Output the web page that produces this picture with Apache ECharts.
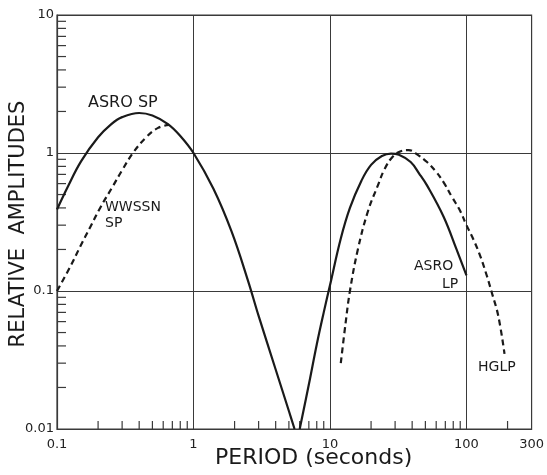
<!DOCTYPE html>
<html>
<head>
<meta charset="utf-8">
<script src="https://cdn.jsdelivr.net/npm/echarts@6/dist/echarts.min.js"></script>
<style>
  html, body { margin: 0; padding: 0; background: #ffffff; }
  #chart { width: 547px; height: 475px; }
</style>
</head>
<body>
<div id="chart"></div>
<script>
// Instrument response curves, relative amplitude vs period (s), log-log.
const asroSpPeriod = [0.1, 0.12, 0.15, 0.2, 0.25, 0.3, 0.4, 0.5, 0.65, 0.8, 1, 1.4, 1.9, 2.5, 3, 4, 5, 5.5];
const asroSpAmp    = [0.39, 0.57, 0.87, 1.3, 1.62, 1.82, 1.95, 1.87, 1.62, 1.33, 1.0, 0.55, 0.27, 0.12, 0.066, 0.027, 0.0135, 0.01];

const wwssnSpPeriod = [0.1, 0.125, 0.148, 0.175, 0.207, 0.258, 0.3, 0.36, 0.45, 0.55, 0.66];
const wwssnSpAmp    = [0.1, 0.15, 0.21, 0.29, 0.40, 0.58, 0.75, 1.0, 1.3, 1.52, 1.6];

const asroLpPeriod = [6, 7, 8, 9, 10, 12, 14, 17, 20, 24, 28, 32, 39, 45, 51.5, 68, 84.6, 100];
const asroLpAmp    = [0.01, 0.021, 0.041, 0.07, 0.11, 0.24, 0.4, 0.63, 0.82, 0.95, 0.99, 0.97, 0.86, 0.71, 0.58, 0.345, 0.2, 0.13];

const hglpPeriod = [12, 13, 14, 16, 19, 22.4, 25.2, 28.8, 33, 37.7, 44, 51.4, 59.3, 68.2, 78.3, 90, 100, 112.7, 126, 140.6, 153, 171, 190];
const hglpAmp    = [0.03, 0.058, 0.1, 0.2, 0.38, 0.58, 0.77, 0.94, 1.03, 1.05, 0.97, 0.86, 0.74, 0.61, 0.48, 0.38, 0.30, 0.235, 0.18, 0.13, 0.098, 0.066, 0.035];

// Axis ranges and labels
const periodMin = 0.1, periodMax = 300;
const ampMin = 0.01, ampMax = 10;
const periodTickLabels = ['0.1', '1', '10', '100', '300'];
const ampTickLabels = ['0.01', '0.1', '1', '10'];

// Minor tick positions (inside the frame, bottom and left edges)
const periodMinorTicks = [0.2, 0.3, 0.4, 0.5, 0.6, 0.7, 0.8, 0.9,
                          2, 3, 4, 5, 6, 7, 8, 9,
                          20, 30, 40, 50, 60, 70, 80, 90, 200];
const ampMinorTicks = [0.02, 0.03, 0.04, 0.05, 0.06, 0.07, 0.08, 0.09,
                       0.2, 0.3, 0.4, 0.5, 0.6, 0.7, 0.8, 0.9,
                       2, 3, 4, 5, 6, 7, 8, 9];

const ink = '#1a1a1a';
const gridInk = '#3a3a3a';
const font = 'DejaVu Sans';

function pairs(xs, ys) { return xs.map((x, i) => [x, ys[i]]); }

function fmt(v) {
  const s = String(Number(v.toPrecision(6)));
  return periodTickLabels.includes(s) || ampTickLabels.includes(s) ? s : '';
}

const chart = echarts.init(document.getElementById('chart'), null, { renderer: 'canvas' });

const curveLine = (name, xs, ys, dashed) => ({
  name, type: 'line', data: pairs(xs, ys), showSymbol: false,
  smooth: 0.4,
  lineStyle: { color: ink, width: 2.2, type: dashed ? [6, 4] : 'solid' },
  z: 5, silent: true
});

chart.setOption({
  animation: false,
  backgroundColor: '#ffffff',
  grid: { left: 57, right: 13, top: 15, bottom: 46, show: true, borderColor: gridInk, borderWidth: 1.2, containLabel: false },
  xAxis: {
    type: 'log', logBase: 10, min: periodMin, max: periodMax,
    axisLine: { show: true, lineStyle: { color: gridInk, width: 1.2 } },
    axisTick: { show: false },
    splitLine: { show: true, lineStyle: { color: gridInk, width: 1 } },
    axisLabel: { show: true, showMinLabel: true, showMaxLabel: true, margin: 9, color: '#222', fontFamily: font, fontSize: 13, formatter: fmt }
  },
  yAxis: {
    type: 'log', logBase: 10, min: ampMin, max: ampMax,
    axisLine: { show: true, lineStyle: { color: gridInk, width: 1.2 } },
    axisTick: { show: false },
    splitLine: { show: true, lineStyle: { color: gridInk, width: 1 } },
    axisLabel: { show: true, showMinLabel: true, showMaxLabel: true, margin: 3, color: '#222', fontFamily: font, fontSize: 13, formatter: fmt }
  },
  series: [
    curveLine('ASRO SP', asroSpPeriod, asroSpAmp, false),
    curveLine('WWSSN SP', wwssnSpPeriod, wwssnSpAmp, true),
    curveLine('ASRO LP', asroLpPeriod, asroLpAmp, false),
    curveLine('HGLP', hglpPeriod, hglpAmp, true),
    {
      name: 'minorTicks', type: 'custom', silent: true, z: 3,
      data: periodMinorTicks.map(v => ['x', v]).concat(ampMinorTicks.map(v => ['y', v])),
      renderItem: function (params, api) {
        const kind = params.dataIndex < periodMinorTicks.length ? 'x' : 'y';
        const v = api.value(1);
        let p, shape;
        if (kind === 'x') {
          p = api.coord([v, ampMin]);
          shape = { x1: p[0], y1: p[1], x2: p[0], y2: p[1] - 8 };
        } else {
          p = api.coord([periodMin, v]);
          shape = { x1: p[0], y1: p[1], x2: p[0] + 9, y2: p[1] };
        }
        return { type: 'line', shape, style: { stroke: gridInk, lineWidth: 1.2 } };
      },
      encode: { x: -1, y: -1 }
    }
  ],
  graphic: [
    { type: 'text', left: 88, top: 95, style: { text: 'ASRO SP', font: '16px "DejaVu Sans"', fill: ink } },
    { type: 'text', left: 105, top: 199, style: { text: 'WWSSN\nSP', font: '14px "DejaVu Sans"', fill: ink, lineHeight: 16 } },
    { type: 'text', left: 414, top: 259, style: { text: 'ASRO', font: '14px "DejaVu Sans"', fill: ink } },
    { type: 'text', left: 442, top: 277, style: { text: 'LP', font: '14px "DejaVu Sans"', fill: ink } },
    { type: 'text', left: 478, top: 360, style: { text: 'HGLP', font: '14px "DejaVu Sans"', fill: ink } },
    { type: 'text', left: 215, top: 447, style: { text: 'PERIOD (seconds)', font: '22px "DejaVu Sans"', fill: ink } },
    { type: 'text', x: 19, y: 224, rotation: Math.PI / 2, style: { text: 'RELATIVE  AMPLITUDES', font: '21px "DejaVu Sans"', fill: ink, align: 'center', verticalAlign: 'middle' } }
  ]
});
</script>
</body>
</html>
